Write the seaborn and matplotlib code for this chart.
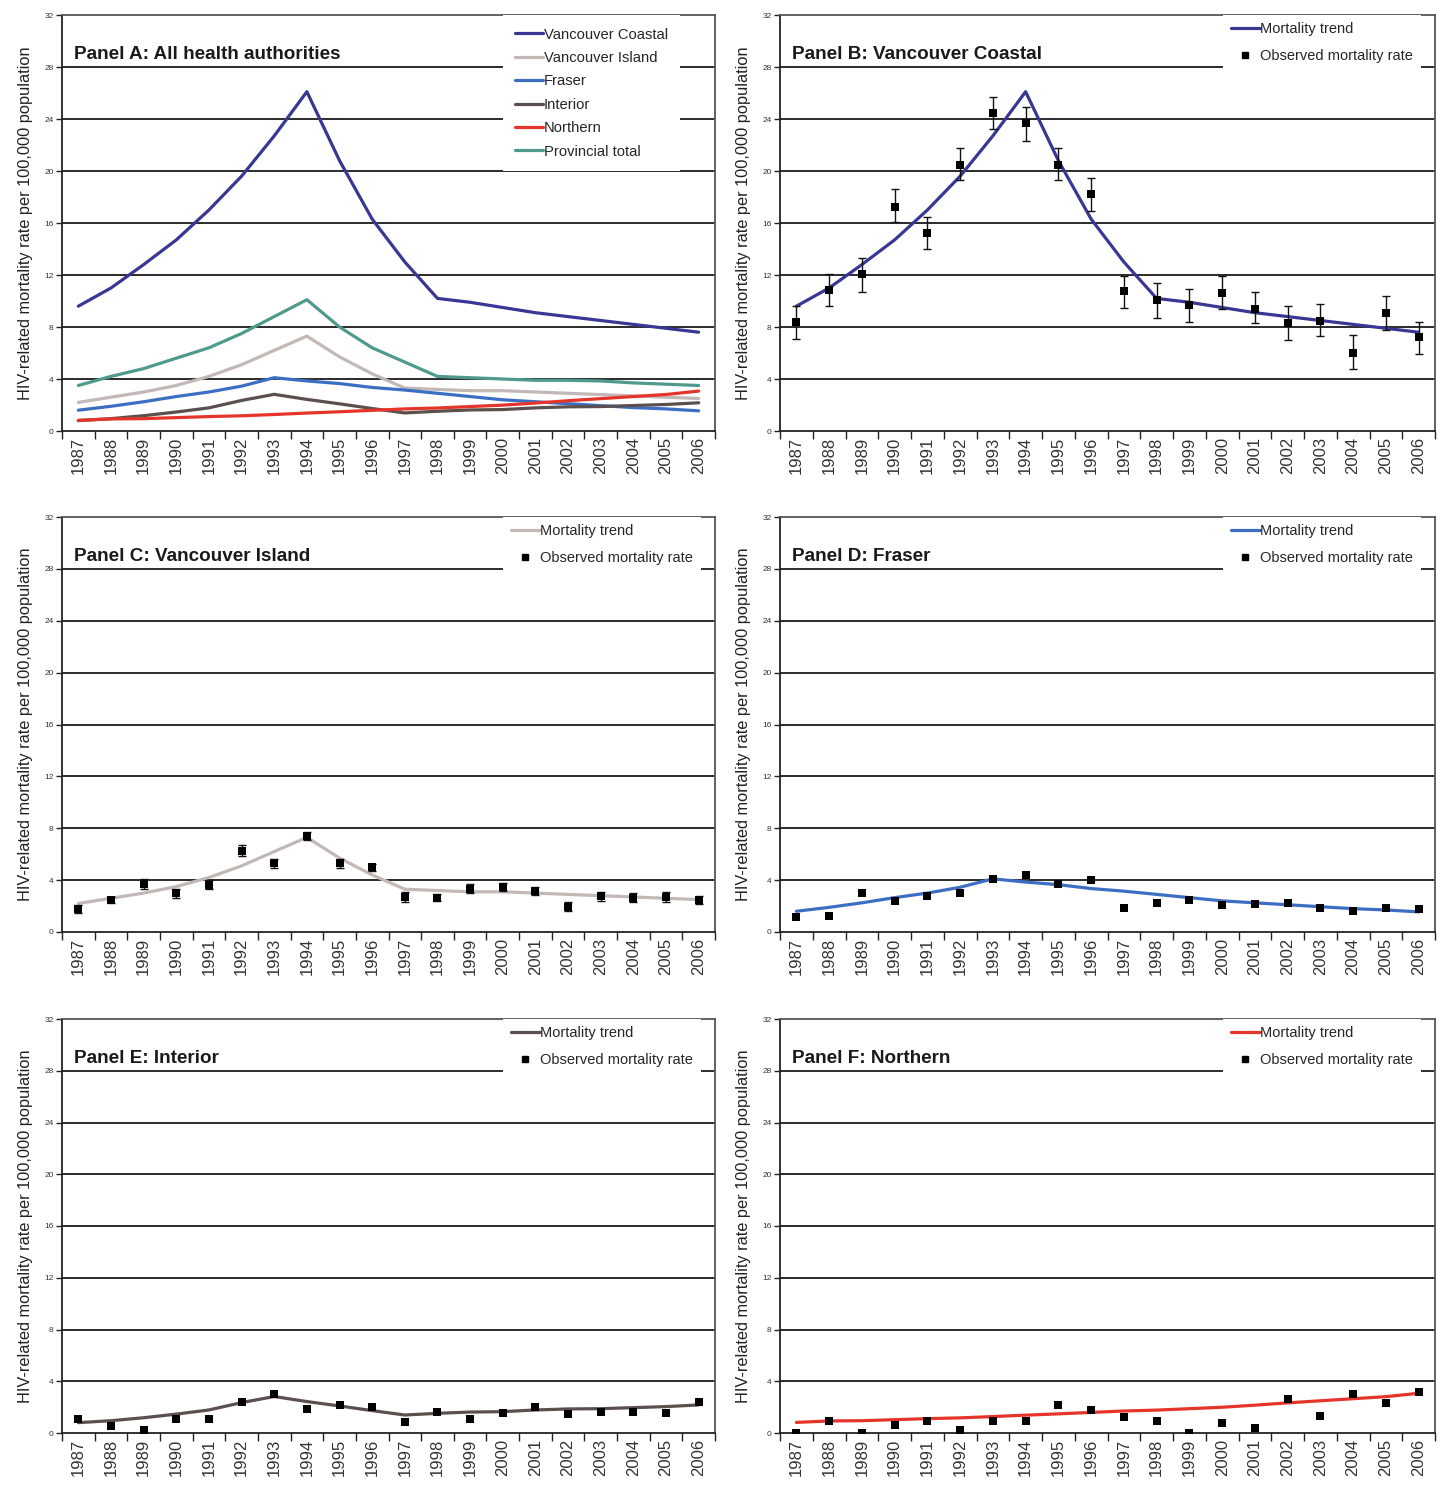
import matplotlib
matplotlib.use('Agg')
import matplotlib.pyplot as plt
import seaborn as sns
import pandas as pd
from matplotlib.lines import Line2D
from matplotlib.ticker import FixedLocator

sns.set_style("white")
plt.rcParams['font.family'] = ['Liberation Sans', 'DejaVu Sans']

# Data
years = list(range(1987, 2007))
y_ticks = list(range(0, 33, 4))

coastal_trend = [9.6, 11.0, 12.8, 14.7, 17.0, 19.6, 22.7, 26.1, 20.8, 16.3,
                 13.0, 10.2, 9.9, 9.5, 9.1, 8.8, 8.5, 8.2, 7.9, 7.6]
island_trend = [2.2, 2.6, 3.0, 3.5, 4.2, 5.1, 6.2, 7.3, 5.7, 4.4,
                3.3, 3.2, 3.1, 3.1, 3.0, 2.9, 2.8, 2.7, 2.6, 2.5]
fraser_trend = [1.6, 1.9, 2.25, 2.65, 3.0, 3.45, 4.1, 3.85, 3.65, 3.35,
                3.15, 2.9, 2.65, 2.4, 2.25, 2.1, 1.95, 1.8, 1.7, 1.55]
interior_trend = [0.8, 0.95, 1.18, 1.46, 1.78, 2.35, 2.82, 2.43, 2.09, 1.73,
                  1.39, 1.52, 1.62, 1.65, 1.78, 1.86, 1.88, 1.96, 2.04, 2.17]
northern_trend = [0.82, 0.93, 0.95, 1.03, 1.11, 1.17, 1.27, 1.38, 1.48, 1.59,
                  1.7, 1.77, 1.88, 1.99, 2.15, 2.33, 2.49, 2.65, 2.81, 3.07]
provincial_trend = [3.5, 4.2, 4.8, 5.6, 6.4, 7.5, 8.8, 10.1, 8.0, 6.4,
                    5.3, 4.2, 4.1, 4.0, 3.9, 3.9, 3.85, 3.7, 3.6, 3.5]

coastal_obs = [8.4, 10.85, 12.05, 17.2, 15.2, 20.5, 24.5, 23.7, 20.5, 18.2,
               10.75, 10.1, 9.7, 10.6, 9.4, 8.3, 8.5, 6.0, 9.05, 7.2]
coastal_lo = [7.1, 9.6, 10.7, 16.1, 14.0, 19.3, 23.2, 22.3, 19.3, 16.9,
              9.5, 8.7, 8.4, 9.4, 8.3, 7.0, 7.3, 4.8, 7.8, 5.9]
coastal_hi = [9.6, 12.1, 13.3, 18.6, 16.5, 21.8, 25.7, 24.9, 21.8, 19.5,
              11.9, 11.4, 10.9, 11.9, 10.7, 9.6, 9.8, 7.4, 10.4, 8.4]

island_obs = [1.75, 2.45, 3.7, 2.97, 3.66, 6.27, 5.29, 7.4, 5.3, 4.98,
              2.7, 2.66, 3.35, 3.48, 3.17, 1.94, 2.76, 2.66, 2.7, 2.45]
island_err = [0.3, 0.25, 0.35, 0.35, 0.35, 0.4, 0.35, 0.3, 0.35, 0.3,
              0.35, 0.3, 0.35, 0.3, 0.3, 0.35, 0.35, 0.35, 0.35, 0.3]

fraser_obs = [1.16, 1.26, 2.97, 2.37, 2.76, 2.97, 4.08, 4.39, 3.69, 4.0,
              1.86, 2.25, 2.45, 2.06, 2.14, 2.27, 1.86, 1.63, 1.86, 1.75]
interior_obs = [1.12, 0.52, 0.21, 1.12, 1.05, 2.38, 3.0, 1.86, 2.17, 1.99,
                0.86, 1.6, 1.05, 1.57, 2.04, 1.46, 1.65, 1.65, 1.57, 2.38]
northern_obs = [0.0, 0.9, 0.03, 0.61, 0.93, 0.26, 0.9, 0.9, 2.15, 1.8,
                1.22, 0.9, 0.03, 0.79, 0.37, 2.6, 1.32, 3.0, 2.33, 3.18]

region_names = ['Vancouver Coastal', 'Vancouver Island', 'Fraser', 'Interior',
                'Northern', 'Provincial total']
region_colors = ['#3A3794', '#C2B8B6', '#3C6FC4', '#5B504D', '#E5352B', '#4F9A8D']
region_trends = [coastal_trend, island_trend, fraser_trend, interior_trend,
                 northern_trend, provincial_trend]

W, H = 1446, 1491
fig = plt.figure(figsize=(W / 100, H / 100), dpi=100)


def make_axes(left, right, top, bottom):
    return fig.add_axes([left / W, 1 - bottom / H, (right - left) / W, (bottom - top) / H])


def style_axes(ax, title):
    ax.set_xlim(1986.5, 2006.5)
    ax.set_ylim(0, 32)
    ax.yaxis.set_major_locator(FixedLocator(y_ticks))
    ax.set_yticklabels([str(v) for v in y_ticks], fontsize=6, color='#333333')
    ax.xaxis.set_major_locator(FixedLocator(years))
    ax.set_xticklabels([str(y) for y in years], rotation=90, fontsize=12,
                       color='#333333')
    ax.xaxis.set_minor_locator(FixedLocator([y + 0.5 for y in range(1986, 2007)]))
    ax.tick_params(axis='x', which='major', length=0, pad=4)
    ax.tick_params(axis='x', which='minor', length=6, width=1, color='#222222',
                   direction='out', bottom=True)
    ax.tick_params(axis='y', which='major', length=4, width=1, color='#222222',
                   direction='out', left=True, pad=2)
    ax.grid(False)
    for v in y_ticks[1:-1]:
        ax.axhline(v, color='#1a1a1a', lw=1.3, zorder=0.5)
    for side in ['left', 'bottom']:
        ax.spines[side].set_color('#222222')
        ax.spines[side].set_linewidth(1.3)
    for side in ['top', 'right']:
        ax.spines[side].set_color('#555555')
        ax.spines[side].set_linewidth(1.3)
    ax.set_xlabel('')
    ax.set_ylabel('HIV-related mortality rate per 100,000 population',
                  fontsize=11.8, color='#222222', labelpad=8)
    ax.text(0.018, 0.905, title, transform=ax.transAxes, fontsize=13.6,
            fontweight='bold', color='#1a1a1a', va='center', ha='left')


# Panel A: all trends
axA = make_axes(62, 715, 15, 431)
trend_df = pd.DataFrame({
    'year': years * len(region_names),
    'rate': sum(region_trends, []),
    'region': [n for n in region_names for _ in years],
})
sns.lineplot(data=trend_df, x='year', y='rate', hue='region', hue_order=region_names,
             palette=region_colors, linewidth=2.3, ax=axA, legend=False, zorder=3)
style_axes(axA, 'Panel A: All health authorities')
handles = [Line2D([], [], color=c, lw=2.3) for c in region_colors]
legA = axA.legend(handles, region_names, loc='upper right', bbox_to_anchor=(0.947, 1.0),
                  fontsize=10.6, frameon=True, facecolor='white', edgecolor='none',
                  framealpha=1, fancybox=False, handlelength=1.9, handletextpad=0.05,
                  labelspacing=0.64, borderpad=0.85, borderaxespad=0)
legA.set_zorder(5)

# Panels B-F
panels = [
    ('Panel B: Vancouver Coastal', region_colors[0], coastal_trend, coastal_obs,
     (coastal_lo, coastal_hi), (780, 1435, 15, 431)),
    ('Panel C: Vancouver Island', region_colors[1], island_trend, island_obs,
     ([o - e for o, e in zip(island_obs, island_err)],
      [o + e for o, e in zip(island_obs, island_err)]), (62, 715, 517, 932)),
    ('Panel D: Fraser', region_colors[2], fraser_trend, fraser_obs, None,
     (780, 1435, 517, 932)),
    ('Panel E: Interior', region_colors[3], interior_trend, interior_obs, None,
     (62, 715, 1019, 1433)),
    ('Panel F: Northern', region_colors[4], northern_trend, northern_obs, None,
     (780, 1435, 1019, 1433)),
]

for title, color, trend, obs, bounds, box in panels:
    ax = make_axes(*box)
    df = pd.DataFrame({'year': years, 'trend': trend, 'obs': obs})
    sns.lineplot(data=df, x='year', y='trend', color=color, linewidth=2.3, ax=ax, zorder=3)
    if bounds is not None:
        lo, hi = bounds
        ax.errorbar(years, obs, yerr=[[o - l for o, l in zip(obs, lo)],
                                      [h - o for o, h in zip(obs, hi)]],
                    fmt='none', ecolor='#111111', elinewidth=1, capsize=3, capthick=1,
                    zorder=4)
    sns.scatterplot(data=df, x='year', y='obs', marker='s', s=28, color='black',
                    edgecolor='black', linewidth=0, ax=ax, zorder=5)
    style_axes(ax, title)
    handles = [Line2D([], [], color=color, lw=2.3),
               Line2D([], [], color='black', marker='s', markersize=5, lw=0)]
    leg = ax.legend(handles, ['Mortality trend', 'Observed mortality rate'],
                    loc='upper right', bbox_to_anchor=(0.978, 1.0), fontsize=10.5,
                    frameon=True, facecolor='white', edgecolor='none', framealpha=1,
                    fancybox=False, handlelength=2.0, handletextpad=0.05,
                    labelspacing=0.85, borderpad=0.5, borderaxespad=0, numpoints=1)
    leg.set_zorder(5)

fig.savefig('out.png', dpi=100, facecolor='white')
